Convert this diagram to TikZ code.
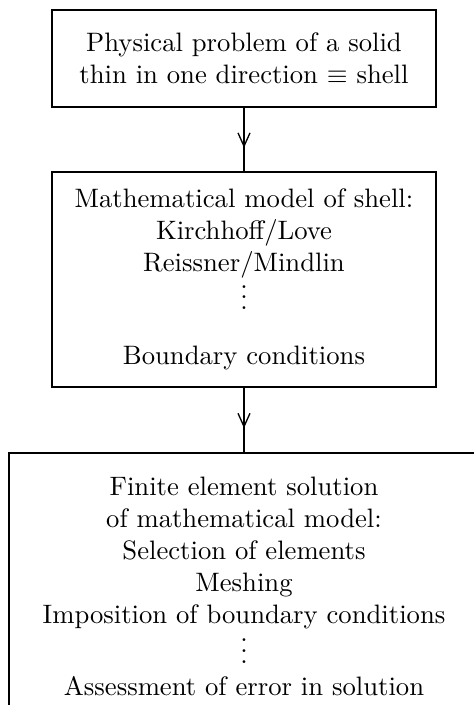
\documentclass[tikz,border=0pt]{standalone}
\usepackage{tikz}
\usetikzlibrary{arrows.meta,decorations.markings}

\begin{document}
\begin{tikzpicture}[
    box/.style={draw, line width=0.7pt, align=center, inner sep=0pt},
    flow/.style={line width=0.5pt, postaction={decorate},
        decoration={markings, mark=at position 0.63 with {\arrow{>}}}},
    >={Straight Barb[length=5pt, width=4.5pt]},
    font=\normalsize
]
    % 画布大小 (与原图比例一致)
    \useasboundingbox (0,0) rectangle (6.247,-9.292);
    \clip (0,0) rectangle (6.247,-9.292);

    % 节点定义 (3个方框)
    \node[box, minimum width=5.06cm, minimum height=1.28cm] (phys) at (3.216,-0.771)
        {Physical problem of a solid\\thin in one direction $\equiv$ shell};   % 物理问题
    \node[box, minimum width=5.06cm, minimum height=2.83cm] (model) at (3.216,-3.684)
        {Mathematical model of shell:\\Kirchhoff/Love\\Reissner/Mindlin\\[-4.4pt]\vdots\\[8.6pt]Boundary conditions}; % 数学模型
    \node[box, minimum width=6.19cm, inner ysep=9pt, text depth=1.5cm, anchor=north] (fem) at (3.216,-5.957)
        {Finite element solution\\of mathematical model:\\Selection of elements\\Meshing\\Imposition of boundary conditions\\[-3.2pt]\vdots\\Assessment of error in solution}; % 有限元解

    % 1. 物理问题 -> 数学模型
    \draw[flow] (phys) -- (model);

    % 2. 数学模型 -> 有限元解
    \draw[flow] (model) -- (fem);

\end{tikzpicture}
\end{document}
